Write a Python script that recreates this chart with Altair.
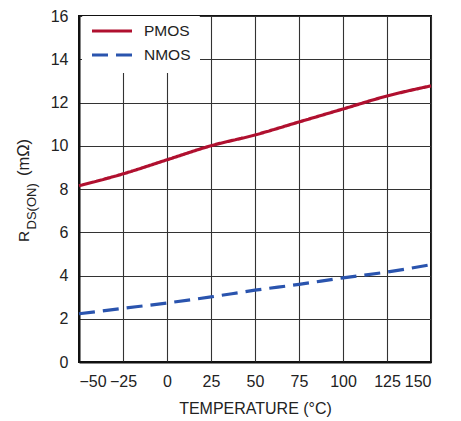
import altair as alt
import pandas as pd

temps = [-50, -25, 0, 25, 50, 75, 100, 125, 150]
pmos = [8.15, 8.7, 9.35, 10.0, 10.5, 11.1, 11.7, 12.3, 12.77]
nmos = [2.23, 2.48, 2.73, 3.01, 3.32, 3.59, 3.89, 4.16, 4.5]
series = ["PMOS", "NMOS"]
colors = ["#B0102F", "#2A54AE"]
dashes = [[1, 0], [16, 8]]
x_ticks = [-50, -25, 0, 25, 50, 75, 100, 125, 150]
y_ticks = [0, 2, 4, 6, 8, 10, 12, 14, 16]
y_title_parts = ["R", "DS(ON)", "(mΩ)"]
x_title = "TEMPERATURE (°C)"

rows = []
for t, p in zip(temps, pmos):
    rows.append({"temp": t, "r": p, "dev": "PMOS"})
for t, n in zip(temps, nmos):
    rows.append({"temp": t, "r": n, "dev": "NMOS"})
df = pd.DataFrame(rows)

FONT = "Liberation Sans"
TXT = "#222222"

leg = dict(title=None, orient="none", legendX=3, legendY=0,
           padding=8, fillColor="white", strokeColor="white",
           symbolType="stroke", symbolSize=1600,
           symbolStrokeWidth=3.2, clipHeight=14, rowPadding=8,
           labelFont=FONT, labelFontSize=15.5, labelColor=TXT,
           labelOffset=10)

lines = alt.Chart(df).mark_line(strokeWidth=3.2, interpolate="monotone").encode(
    x=alt.X("temp:Q", scale=alt.Scale(domain=[-50, 150], nice=False),
            axis=alt.Axis(values=x_ticks, title=x_title, format="d")),
    y=alt.Y("r:Q", scale=alt.Scale(domain=[0, 16], nice=False),
            axis=alt.Axis(values=y_ticks, title=None)),
    color=alt.Color("dev:N", scale=alt.Scale(domain=series, range=colors),
                    legend=alt.Legend(**leg)),
    strokeDash=alt.StrokeDash("dev:N", scale=alt.Scale(domain=series, range=dashes),
                              legend=alt.Legend(**leg)),
)

def ypart(text, size, xv, yv):
    return alt.Chart(pd.DataFrame({"t": [text]})).mark_text(
        angle=270, align="left", baseline="alphabetic", fontSize=size,
        font=FONT, color=TXT
    ).encode(text="t:N", x=alt.value(xv), y=alt.value(yv))

# plot origin is at (79, 16) on the page
title_r = ypart(y_title_parts[0], 15.5, -50, 226)
title_sub = ypart(y_title_parts[1], 13, -43, 213.5)
title_unit = ypart(y_title_parts[2], 16.5, -50, 160)

chart = alt.layer(lines, title_r, title_sub, title_unit).properties(
    width=352, height=346,
    autosize=alt.AutoSizeParams(type="none"),
    padding={"left": 71, "top": 8, "right": 22, "bottom": 56},
).configure_view(
    stroke="#111111", strokeWidth=2
).configure_axis(
    grid=True, gridColor="#333333", gridWidth=1.1, gridOpacity=1,
    domainColor="#111111", domainWidth=2, ticks=False, tickSize=0,
    labelFont=FONT, labelFontSize=16, labelColor=TXT, labelPadding=11,
    titleFont=FONT, titleFontSize=16, titleColor=TXT, titleFontWeight="normal",
    titlePadding=11,
)

chart.save("out.html", embed_options={"renderer": "svg", "actions": False})
